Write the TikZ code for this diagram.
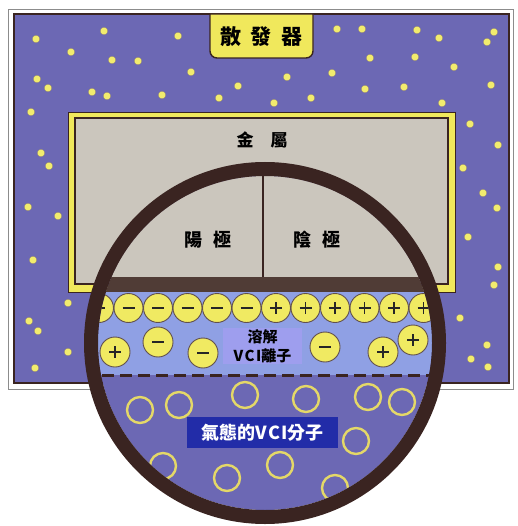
\documentclass[tikz,border=0pt]{standalone}
\usepackage{fontspec}
\newfontfamily\cjk{Noto Sans CJK TC}
\definecolor{framegray}{RGB}{140,140,140}
\definecolor{violetbg}{RGB}{108,104,180}
\definecolor{speckyellow}{RGB}{242,236,110}
\definecolor{metalgray}{RGB}{203,198,189}
\definecolor{metalyellow}{RGB}{240,232,92}
\definecolor{rimbrown}{RGB}{58,36,33}
\definecolor{bandbrown}{RGB}{80,60,54}
\definecolor{ionblue}{RGB}{143,160,228}
\definecolor{ionyellow}{RGB}{240,234,98}
\definecolor{labelviolet}{RGB}{158,158,238}
\definecolor{gasblue}{RGB}{34,44,168}
\definecolor{gasyellow}{RGB}{228,216,104}
\begin{document}
\begin{tikzpicture}[x=1pt,y=-1pt,
		speck/.style={fill=speckyellow,draw=rimbrown!60,line width=0.3pt},
		ionball/.style={fill=ionyellow,draw=rimbrown!80,line width=0.9pt},
		ionsign/.style={draw=black!85,line width=1.6pt},
		gasring/.style={draw=gasyellow,line width=2.4pt},
		cjklabel/.style={font=\cjk\bfseries\fontsize{18}{20}\selectfont,inner sep=0pt}]
		\useasboundingbox (0,0) rectangle (517,526);
		\draw[framegray,line width=0.8pt,fill=white] (8,9) rectangle (513,389);
		\draw[rimbrown,line width=1.2pt,fill=violetbg] (14,14) rectangle (509,383);
		\foreach \x/\y in {36/39,104/31,178/36,71/52,112/60,138/61,37/79,48/88,92/92,107/96,
			162/95,191/72,219/98,238/86,274/103,287/77,311/98,332/73,337/29,362/29,370/58,
			365/89,404/87,415/57,417/30,439/38,454/67,442/103,487/42,494/32,491/85,470/124,
			498/145,463/168,483/193,31/112,41/153,49/166,28/207,58/216,33/260,68/303,29/321,
			38/331,68/352,35/368,497/208,468/237,498/267,494/285,460/318,487/345,471/359,488/367}
		{
			\filldraw[speck] (\x,\y) circle (3.8pt);
		}
		% emitter tag on the top edge
		\draw[fill=metalyellow,draw=rimbrown,line width=1.4pt] (210,14) [rounded corners=7pt] -- (210,58) -- (313,58) [sharp corners] -- (313,14) -- cycle;
		\node[cjklabel,font=\cjk\bfseries\fontsize{21}{22}\selectfont] (emitter) at (261.5,37) {散\hspace{0.45em}發\hspace{0.45em}器};
		% metal plate
		\draw[fill=metalyellow,draw=rimbrown,line width=0.8pt] (68,112) rectangle (455,292);
		\draw[fill=metalgray,draw=rimbrown,line width=1.2pt] (75,118) rectangle (448,284);
		\node[cjklabel,font=\cjk\bfseries\fontsize{17}{20}\selectfont] (metal) at (262,140) {金\hspace{1em}屬};
		% magnified section
		\begin{scope}
			\clip (265,343) circle (167pt);
			\fill[violetbg] (60,160) rectangle (470,530);
			\fill[metalgray] (60,160) rectangle (470,277);
			\draw[rimbrown,line width=1.2pt] (263,160) -- (263,277);
			\fill[bandbrown] (60,277) rectangle (470,292);
			\fill[ionblue] (60,292) rectangle (470,375);
			\draw[rimbrown,line width=3pt,dash pattern=on 12pt off 6pt] (102,375) -- (440,375);
			\foreach \i in {0,...,11}
			{
				\pgfmathsetmacro\x{99+29.5*\i}
				\filldraw[ionball] (\x,308) circle (14.5pt);
				\draw[ionsign] (\x-6,308) -- (\x+6,308);
				\ifnum\i>5 \draw[ionsign] (\x,302) -- (\x,314); \fi
			}
			\foreach \x/\y/\s in {115/352/1,158/342/0,203/353/0,325/347/0,383/352/1,413/340/1}
			{
				\filldraw[ionball] (\x,\y) circle (15pt);
				\draw[ionsign] (\x-6,\y) -- (\x+6,\y);
				\ifnum\s=1 \draw[ionsign] (\x,\y-6) -- (\x,\y+6); \fi
			}
			\foreach \x/\y in {140/410,179/405,245/395,306/399,368/397,402/402,356/441,
				163/466,227/478,280/465,335/488}
			{
				\draw[gasring] (\x,\y) circle (13pt);
			}
		\end{scope}
		\draw[rimbrown,line width=14pt] (265,343) circle (174pt);
		\node[cjklabel] (anode) at (208,240) {陽\hspace{0.6em}極};
		\node[cjklabel] (cathode) at (317,240) {陰\hspace{0.6em}極};
		\fill[labelviolet] (223,328) rectangle (302,364);
		\node[cjklabel,align=center,font=\cjk\bfseries\fontsize{15}{19}\selectfont] (dissolved) at (262.5,346) {溶解\\V\kern1.5pt C\kern1.5pt I離子};
		\fill[gasblue] (187,417) rectangle (338,448);
		\node[cjklabel,text=white,font=\cjk\bfseries\fontsize{18}{20}\selectfont] (gaseous) at (262.5,432.5) {氣態的V\kern1pt C\kern1pt I分子};
\end{tikzpicture}
\end{document}
